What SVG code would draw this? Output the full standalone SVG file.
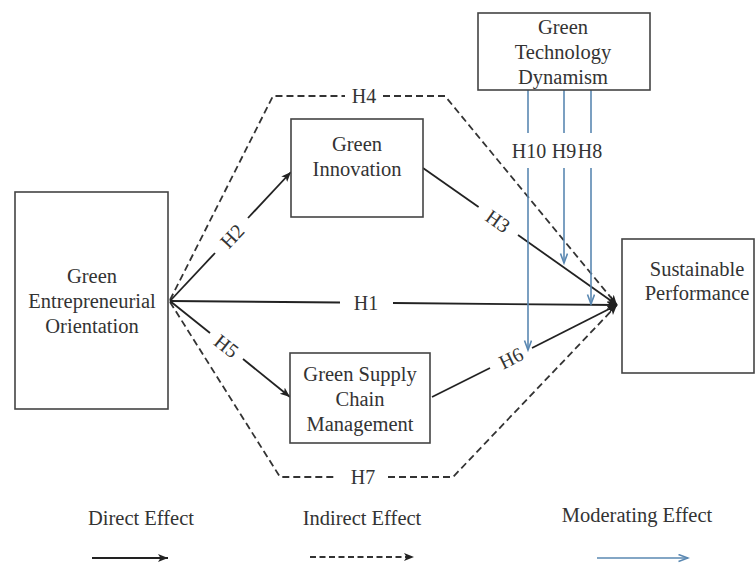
<svg xmlns="http://www.w3.org/2000/svg" width="756" height="563" viewBox="0 0 756 563">
<style>
.box{fill:#fff;stroke:#444;stroke-width:1.6}
.t{font-family:"Liberation Serif","Times New Roman",serif;font-size:20.5px;fill:#333;text-anchor:middle}
.lb{font-family:"Liberation Serif","Times New Roman",serif;font-size:20px;fill:#333;text-anchor:middle}
.d{fill:none;stroke:#222;stroke-width:1.8}
.i{fill:none;stroke:#333;stroke-width:1.8;stroke-dasharray:7 4}
.m{fill:none;stroke:#5a88b2;stroke-width:1.6}
</style>
<defs>
<marker id="ah" markerUnits="userSpaceOnUse" markerWidth="12" markerHeight="10" refX="10" refY="4" orient="auto">
<path d="M0,0 L10,4 L0,8 L2.5,4 z" fill="#222"/>
</marker>
<marker id="ahm" markerUnits="userSpaceOnUse" markerWidth="12" markerHeight="10" refX="10" refY="4" orient="auto">
<path d="M0.5,0.5 L10,4 L0.5,7.5" fill="none" stroke="#5a88b2" stroke-width="1.6"/>
</marker>
</defs>
<rect width="756" height="563" fill="#fff"/>

<g id="connectors">
<!-- H4 indirect -->
<path class="i" d="M170,300 L273,96 L345,96"/>
<path class="i" d="M383,96 L445,96 L617,305" marker-end="url(#ah)"/>
<text class="lb" x="364" y="103">H4</text>
<!-- H7 indirect -->
<path class="i" d="M170,302 L280,477 L337,477"/>
<path class="i" d="M388,477 L453,477 L617,305" marker-end="url(#ah)"/>
<text class="lb" x="363" y="484">H7</text>
<!-- H2 -->
<path class="d" d="M170,301 L215,253"/>
<path class="d" d="M248,218 L291,172" marker-end="url(#ah)"/>
<text class="lb" transform="translate(232,236) rotate(-46.8)" y="7">H2</text>
<!-- H5 -->
<path class="d" d="M170,301 L210,333"/>
<path class="d" d="M243,359 L290,397" marker-end="url(#ah)"/>
<text class="lb" transform="translate(226.5,346) rotate(38.4)" y="7">H5</text>
<!-- H1 -->
<path class="d" d="M170,301 L340,302.5"/>
<path class="d" d="M393,303 L617,305" marker-end="url(#ah)"/>
<text class="lb" x="366" y="310">H1</text>
<!-- H3 -->
<path class="d" d="M423,168 L478.6,207"/>
<path class="d" d="M518,235 L617,305" marker-end="url(#ah)"/>
<text class="lb" transform="translate(498,221) rotate(35.2)" y="7">H3</text>
<!-- H6 -->
<path class="d" d="M432,397 L490,368"/>
<path class="d" d="M532,348 L617,305" marker-end="url(#ah)"/>
<text class="lb" transform="translate(511,358) rotate(-26.4)" y="7">H6</text>
<!-- moderating -->
<path class="m" d="M528,90 L528,133"/>
<path class="m" d="M528,168 L528,350" marker-end="url(#ahm)"/>
<path class="m" d="M564,90 L564,133"/>
<path class="m" d="M564,168 L564,263" marker-end="url(#ahm)"/>
<path class="m" d="M591,90 L591,133"/>
<path class="m" d="M591,168 L591,304" marker-end="url(#ahm)"/>
<text class="lb" x="529" y="158">H10</text>
<text class="lb" x="564" y="158">H9</text>
<text class="lb" x="590" y="158">H8</text>
</g>

<g id="geo">
<rect class="box" x="15" y="192" width="153" height="217"/>
<text class="t" x="92" y="283">Green</text>
<text class="t" x="92" y="308">Entrepreneurial</text>
<text class="t" x="92" y="333">Orientation</text>
</g>
<g id="gi">
<rect class="box" x="291" y="119" width="132" height="98"/>
<text class="t" x="357" y="151">Green</text>
<text class="t" x="357" y="176">Innovation</text>
</g>
<g id="gscm">
<rect class="box" x="290" y="353" width="140" height="90"/>
<text class="t" x="360" y="381">Green Supply</text>
<text class="t" x="360" y="406">Chain</text>
<text class="t" x="360" y="431">Management</text>
</g>
<g id="gtd">
<rect class="box" x="478" y="13" width="172" height="77"/>
<text class="t" x="563" y="34">Green</text>
<text class="t" x="563" y="59">Technology</text>
<text class="t" x="563" y="84">Dynamism</text>
</g>
<g id="sp">
<rect class="box" x="622" y="239" width="132" height="134"/>
<text class="t" x="697" y="276">Sustainable</text>
<text class="t" x="697" y="300">Performance</text>
</g>

<g id="legend">
<text class="t" x="141" y="525">Direct Effect</text>
<text class="t" x="362" y="525">Indirect Effect</text>
<text class="t" x="637" y="522">Moderating Effect</text>
<path class="d" d="M92,558 L168,558" marker-end="url(#ah)"/>
<path d="M310,557 L414,557" fill="none" stroke="#333" stroke-width="2" stroke-dasharray="6 3.5" marker-end="url(#ah)"/>
<path class="m" d="M597,558 L688,558" marker-end="url(#ahm)"/>
</g>
</svg>
